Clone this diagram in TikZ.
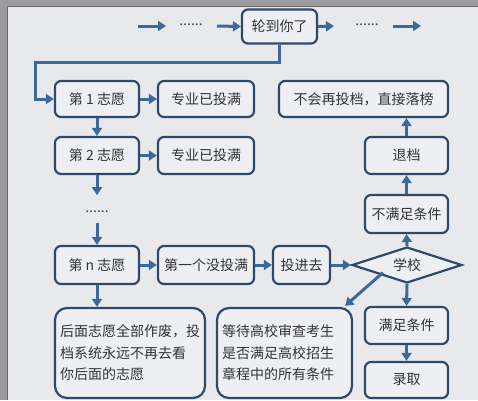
\documentclass[tikz,border=0pt]{standalone}
\usepackage{fontspec}
\setmainfont{Noto Sans CJK SC}
\usetikzlibrary{shapes.geometric,arrows.meta}
\definecolor{bgc}{HTML}{E8E9EC}
\definecolor{boxf}{HTML}{EDEFF2}
\definecolor{bordc}{HTML}{2E4A68}
\definecolor{arrc}{HTML}{3C6A98}
\definecolor{framec}{HTML}{9C9C9E}
\definecolor{framed}{HTML}{6A6A6C}
\tikzset{
  box/.style={draw=bordc, line width=2.2pt, rounded corners=6pt, fill=boxf,
    inner sep=0pt, font=\fontsize{14}{16}\selectfont, text=black!80},
  arr/.style={draw=arrc, line width=3pt, -{Triangle[length=8pt,width=10pt]}},
  dotstext/.style={font=\fontsize{14}{16}\selectfont, text=black!75, inner sep=0pt},
}
\begin{document}
\begin{tikzpicture}[x=1pt,y=-1pt]
\useasboundingbox (0,0) rectangle (478,400);
\fill[bgc] (0,0) rectangle (478,400);
\fill[framec] (0,0) rectangle (478,6);
\fill[framec] (0,0) rectangle (7,400);
\draw[framed, line width=1pt] (7.5,400) -- (7.5,6.5) -- (478,6.5);

% top row
\node[box, minimum width=75pt, minimum height=34pt] (turn) at (279.5,26.5) {轮到你了};
\node[dotstext] (d1) at (191,25) {......};
\node[dotstext] (d2) at (367,25) {......};
\coordinate (a1s) at (138,26);
\coordinate (a1e) at (166,26);
\coordinate (a2s) at (217,26);
\coordinate (a3e) at (334,26);
\coordinate (a4s) at (393,26);
\coordinate (a4e) at (421,26);
\coordinate (elb) at (35,62);

% column 1
\node[box, minimum width=84pt, minimum height=36pt] (v1) at (97,99) {第 1 志愿};
\node[box, minimum width=84pt, minimum height=37pt] (v2) at (97,155.5) {第 2 志愿};
\node[dotstext] (d3) at (97,212) {......};
\node[box, minimum width=84pt, minimum height=38pt] (vn) at (97,265) {第 n 志愿};

% column 2
\node[box, minimum width=96pt, minimum height=36pt] (f1) at (206,99) {专业已投满};
\node[box, minimum width=96pt, minimum height=37pt] (f2) at (206,155.5) {专业已投满};
\node[box, minimum width=96pt, minimum height=38pt] (first) at (206,265) {第一个没投满};
\node[box, minimum width=57pt, minimum height=38pt] (tou) at (301.5,265) {投进去};

% right column
\node[box, minimum width=169pt, minimum height=36pt] (fail) at (363.5,99) {不会再投档，直接落榜};
\node[box, minimum width=83pt, minimum height=37pt] (tui) at (406.5,155.5) {退档};
\node[box, minimum width=83pt, minimum height=38pt] (bm) at (406.5,214) {不满足条件};
\node[draw=bordc, line width=2.2pt, fill=boxf, diamond, aspect=3, inner sep=0pt,
  minimum width=110pt, minimum height=36pt, font=\fontsize{14}{16}\selectfont, text=black!80] (school) at (407,265) {学校};
\node[box, minimum width=83pt, minimum height=37pt] (mz) at (406.5,325.5) {满足条件};
\node[box, minimum width=83pt, minimum height=36pt] (lq) at (406.5,380) {录取};

% bottom boxes
\node[box, minimum width=150pt, minimum height=90pt, rounded corners=12pt,
  text width=140pt, align=left, font=\fontsize{14}{21.5}\selectfont] (later) at (130,353)
  {后面志愿全部作废，投\\档系统永远不再去看\\你后面的志愿};
\node[box, minimum width=135pt, minimum height=90pt, rounded corners=12pt,
  text width=125pt, align=left, font=\fontsize{14}{21.5}\selectfont] (wait) at (284.5,353)
  {等待高校审查考生\\是否满足高校招生\\章程中的所有条件};

% connectors
\draw[arr] (a1s) -- (a1e);
\draw[arr] (a2s) -- (turn.west);
\draw[arr] (turn.east) -- (a3e);
\draw[arr] (a4s) -- (a4e);
\draw[arr] (turn.south) |- (elb) |- (v1.west);
\draw[arr] (v1.east) -- (f1.west);
\draw[arr] (v1.south) -- (v2.north);
\draw[arr] (v2.east) -- (f2.west);
\draw[arr] (v2.south) -- ([yshift=-20pt]v2.south);
\draw[arr] ([yshift=-10pt]d3.south) -- (vn.north);
\draw[arr] (vn.east) -- (first.west);
\draw[arr] (first.east) -- (tou.west);
\draw[arr] (tou.east) -- (school.west);
\draw[arr] (vn.south) -- (later.north -| vn.south);
\draw[arr] (school.north) -- (bm.south);
\draw[arr] (bm.north) -- (tui.south);
\draw[arr] (tui.north) -- (fail.south -| tui.north);
\draw[arr] (school.south) -- (mz.north);
\draw[arr] (mz.south) -- (lq.north);
\draw[arr] ([xshift=4pt,yshift=2pt]school.south west) -- ([xshift=-8pt,yshift=1pt]wait.north east);
\end{tikzpicture}
\end{document}
